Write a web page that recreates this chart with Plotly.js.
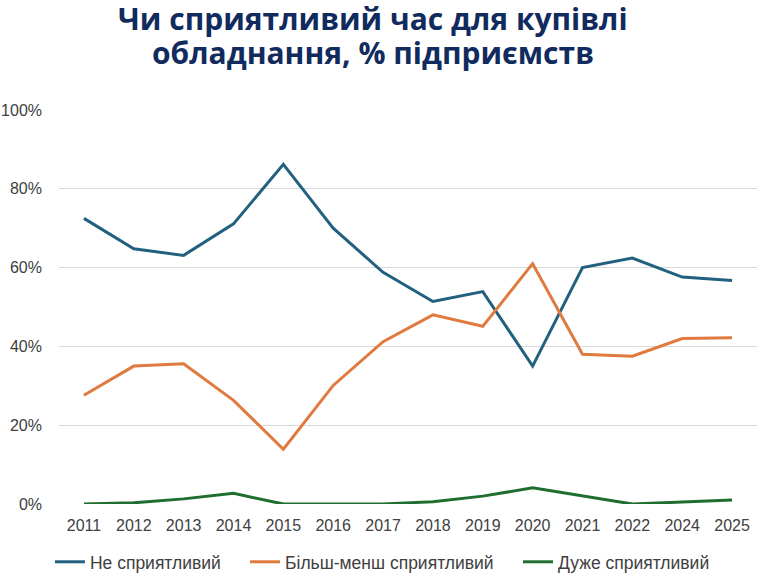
<!DOCTYPE html>
<html>
<head>
<meta charset="utf-8">
<script src="https://cdn.plot.ly/plotly-3.0.1.min.js"></script>
<style>
  html, body { margin: 0; padding: 0; background: #fff; }
  #chart { width: 764px; height: 576px; }
</style>
</head>
<body>
<div id="chart"></div>
<script>
// years on the category axis (no 2023 in the source)
var years = ['2011', '2012', '2013', '2014', '2015', '2016', '2017',
             '2018', '2019', '2020', '2021', '2022', '2024', '2025'];

// shares of firms, %
var notFavourable  = [72.5, 64.8, 63.1, 71.1, 86.2, 70.0, 58.8, 51.4, 53.9, 35.0, 60.0, 62.4, 57.6, 56.7];
var moreOrLess     = [27.6, 35.0, 35.6, 26.3, 13.9, 30.1, 41.2, 48.0, 45.1, 61.0, 38.0, 37.5, 42.0, 42.2];
var veryFavourable = [0.0, 0.3, 1.3, 2.7, 0.0, 0.0, 0.0, 0.6, 2.0, 4.1, 2.0, 0.0, 0.5, 1.0];

var seriesNames = ['Не сприятливий', 'Більш-менш сприятливий', 'Дуже сприятливий'];
var titleLines = ['Чи сприятливий час для купівлі', 'обладнання, % підприємств'];

var colors = ['#22607f', '#e07a3e', '#1f6e2f'];
var textFont = 'Liberation Sans, Arial, sans-serif';
var legendIds = ['legend', 'legend2', 'legend3'];
var legendX = [-0.013, 0.2665, 0.6576];

function makeTrace(values, i) {
  return {
    x: years,
    y: values,
    type: 'scatter',
    mode: 'lines',
    name: seriesNames[i],
    legend: legendIds[i],
    line: { color: colors[i], width: 3 },
    hoverinfo: 'skip'
  };
}

function makeLegend(i) {
  return {
    orientation: 'h',
    x: legendX[i],
    xanchor: 'left',
    y: -0.147,
    yanchor: 'middle',
    bgcolor: 'rgba(0,0,0,0)',
    font: { family: textFont, size: 17.5, color: '#404040' }
  };
}

function titleLine(i, y) {
  return {
    text: '<b>' + titleLines[i] + '</b>',
    xref: 'paper', yref: 'paper',
    x: 0.45, y: y,
    xanchor: 'center', yanchor: 'middle',
    showarrow: false,
    font: { family: 'Open Sans, sans-serif', size: 30, color: '#112b5e' }
  };
}

var data = [
  makeTrace(notFavourable, 0),
  makeTrace(moreOrLess, 1),
  makeTrace(veryFavourable, 2)
];

var layout = {
  width: 764,
  height: 576,
  margin: { l: 59, r: 7, t: 110, b: 72, autoexpand: false },
  paper_bgcolor: '#ffffff',
  plot_bgcolor: '#ffffff',
  showlegend: true,
  font: { family: textFont, size: 16, color: '#404040' },
  xaxis: {
    type: 'category',
    range: [-0.5, 13.5],
    showgrid: false,
    zeroline: false,
    showline: false,
    ticks: '',
    ticklabelstandoff: 10,
    tickfont: { family: textFont, size: 16, color: '#404040' },
    fixedrange: true
  },
  yaxis: {
    range: [0, 100],
    dtick: 20,
    ticksuffix: '%',
    showgrid: true,
    gridcolor: '#d9d9d9',
    gridwidth: 1,
    zeroline: false,
    showline: false,
    ticks: '',
    ticklabelstandoff: 16,
    tickfont: { family: textFont, size: 16, color: '#404040' },
    fixedrange: true
  },
  legend: makeLegend(0),
  legend2: makeLegend(1),
  legend3: makeLegend(2),
  annotations: [titleLine(0, 1.231), titleLine(1, 1.147)]
};

Plotly.newPlot('chart', data, layout, { displayModeBar: false, staticPlot: true });
</script>
</body>
</html>
